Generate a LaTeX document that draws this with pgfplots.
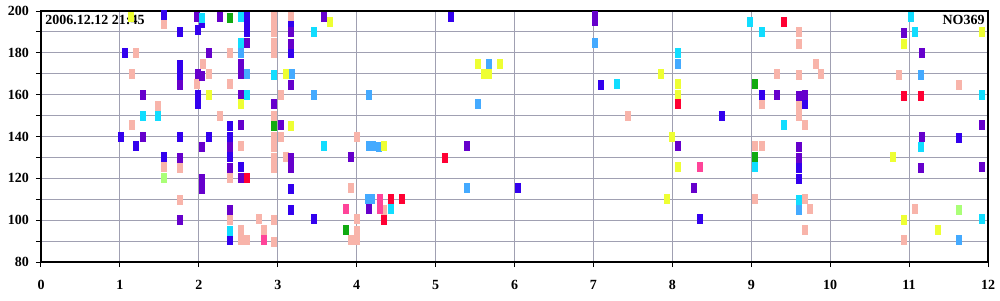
\documentclass[border=0pt]{standalone}
\usepackage{pgfplots}
\pgfplotsset{compat=1.18}
\usepackage{fontspec}
\setmainfont{Liberation Serif}
\definecolor{dblue}{RGB}{51,0,238}
\definecolor{purp}{RGB}{102,0,204}
\definecolor{pinkc}{RGB}{248,180,170}
\definecolor{cyanc}{RGB}{17,221,255}
\definecolor{lblue}{RGB}{68,170,255}
\definecolor{yell}{RGB}{238,255,51}
\definecolor{grn}{RGB}{17,170,17}
\definecolor{redc}{RGB}{255,0,51}
\definecolor{hpink}{RGB}{255,68,153}
\definecolor{lgreen}{RGB}{170,255,119}
\definecolor{gridc}{RGB}{160,160,178}
\pgfdeclareplotmark{vr}{\pgfpathrectangle{\pgfpoint{-1.5pt}{-2.5pt}}{\pgfpoint{3pt}{5pt}}\pgfusepathqfill}
\begin{document}
\begin{tikzpicture}
\begin{axis}[name=ax, scale only axis, width=473.5pt, height=125.5pt,
  xmin=0, xmax=12, ymin=80, ymax=200,
  xtick={0,1,...,12}, ytick={80,100,...,200}, minor ytick={90,110,...,190},
  grid=both, major grid style={gridc, line width=0.5pt}, minor grid style={gridc, line width=0.5pt},
  tick align=outside, major tick length=2.5pt, minor tick length=2.5pt,
  xtick pos=left, ytick pos=left, tick style={black, line width=0.5pt},
  axis line style={black, line width=0.8pt},
  /pgf/number format/assume math mode=true,
  ticklabel style={font=\fontsize{7}{8}\selectfont\bfseries},
  xticklabel style={yshift=-3pt},
  every axis plot/.append style={only marks, mark=vr},
]
\addplot[pinkc] coordinates {(1.56,194) (1.98,165) (1.21,180) (1.15,170) (2.05,174.8) (1.48,154.8) (1.15,145.3) (1.56,125.3) (1.76,124.8) (1.76,109.7)
(2.95,197) (2.95,193) (2.95,190) (2.95,184.5) (2.95,180) (3.17,197)
(2.40,180) (2.13,170) (2.40,165) (3.04,160) (2.27,150) (2.95,149.7) (3.04,140) (2.95,139.8) (2.95,135) (4.00,139.7) (2.54,135.3) (2.95,129.6) (2.95,124.9) (3.10,130) (2.40,120.1) (3.93,115.3) (2.40,100.1) (2.76,100.4) (2.95,100.1) (4.01,100.4) (2.54,95.4) (2.54,90.6) (2.61,90.3) (2.82,95.4) (4.00,95) (4.00,90.3) (3.93,90.3) (2.95,89.8)
(4.35,104.9) (7.44,150)
(9.60,190) (9.60,184.4) (9.82,174.8) (9.33,170) (9.60,169.6) (9.89,170) (9.13,155.3) (9.60,154.8) (9.60,149.7) (9.68,145.3) (9.05,135.3) (9.13,135.3) (9.05,110.1) (9.68,110.1) (9.75,105.4) (9.68,95.4)
(10.87,169.6) (11.63,164.6) (11.08,105.4) (10.93,90.3)};
\addplot[dblue] coordinates {(1.56,198) (1.76,190) (1.99,191) (1.07,180) (1.76,174.3) (1.76,169.6) (1.99,160) (1.99,155.3) (1.01,140) (1.76,139.7) (1.21,135.3) (1.56,130)
(2.04,194.4) (2.61,197) (2.61,193) (2.61,190) (3.17,193) (3.17,179.7) (2.40,144.8) (2.40,140) (2.13,140) (2.40,130.2) (2.54,125.3) (3.17,114.9) (3.17,104.9) (3.46,100.4) (2.40,90.3)
(5.20,197) (6.04,115.4) (7.09,164.6)
(9.13,160) (9.68,155.3) (8.63,150) (9.60,124.8) (9.60,119.6) (8.35,100.4) (11.63,139.5)};
\addplot[purp] coordinates {(1.98,197) (1.76,164.8) (1.29,160) (1.29,140) (2.04,135) (1.76,129.7) (2.04,119.6) (2.04,114.9) (1.76,100.1)
(1.99,170) (2.04,169)
(2.27,197) (3.17,190) (3.59,197) (2.61,184.8) (3.17,184.4) (2.13,180) (2.54,174.8) (2.54,170) (3.17,164.6) (2.54,160) (2.95,155.3) (2.54,145.3) (3.04,145.3) (2.40,135) (3.17,129.6) (3.17,124.9) (3.93,130) (2.40,124.8) (2.54,120.1) (2.40,104.9)
(4.15,105.2) (5.40,135.3) (7.02,197.5) (7.02,195) (8.07,135.3)
(9.33,160) (9.60,159.5) (9.68,160) (9.60,134.8) (9.60,129.6) (8.28,115.4)
(10.93,189.5) (11.16,180) (11.92,145.3) (11.16,140) (11.15,124.8) (11.92,125.3)};
\addplot[lblue] coordinates {(2.54,180) (2.61,170) (3.18,170) (3.46,160) (5.68,174.8) (4.15,160) (5.54,155.3) (4.15,135.3) (4.21,135.3) (4.28,135) (5.40,115.4) (4.14,110) (4.20,110) (7.02,184.8) (8.07,174.8) (9.60,104.9) (11.15,169.6) (11.63,90.3)};
\addplot[cyanc] coordinates {(1.29,150) (1.48,149.7) (2.04,196.8) (2.54,197) (3.46,190) (2.54,184.8) (2.95,169.6) (2.61,160) (3.59,135.3) (2.40,94.9) (4.43,105.4) (8.07,180) (7.30,165.1) (8.99,194.8) (9.13,190) (9.41,145.3) (9.05,125.3) (9.60,109.6) (11.02,197) (11.08,190) (11.92,160) (11.15,134.8) (11.92,100.4)};
\addplot[yell] coordinates {(1.14,197) (3.66,194.8) (3.10,170) (2.13,160) (2.54,155.3) (3.17,144.8) (4.35,135.3) (5.54,174.8) (5.82,174.8) (5.61,170) (5.68,170) (7.85,170) (8.07,165.1) (8.07,160) (8.00,140) (8.07,125.3) (7.93,110.1) (11.92,190) (10.93,184.4) (10.80,130) (10.93,100.1) (11.36,95.4)};
\addplot[grn] coordinates {(2.40,196.6) (2.95,144.8) (3.87,95.4) (9.05,165.1) (9.05,130)};
\addplot[redc] coordinates {(2.61,120.1) (5.12,129.6) (4.43,110.1) (4.57,110.1) (4.35,100.1) (8.07,155.3) (9.41,194.8) (10.93,159.5) (11.15,159.5)};
\addplot[hpink] coordinates {(3.87,105.4) (4.29,110.1) (4.29,105.4) (2.82,90.3) (8.35,125.3)};
\addplot[lgreen] coordinates {(1.56,120.3) (11.63,104.9)};
\node[anchor=north west, inner sep=0pt, font=\fontsize{7}{8}\selectfont\bfseries] at ([xshift=2pt,yshift=-1.8pt]rel axis cs:0,1) {2006.12.12 21:45};
\node[anchor=north east, inner sep=0pt, font=\fontsize{7}{8}\selectfont\bfseries] at ([xshift=-1.5pt,yshift=-1.8pt]rel axis cs:1,1) {NO369};
\end{axis}
\pgfresetboundingbox
\path[use as bounding box] ([xshift=-20.5pt,yshift=-19pt]ax.south west) rectangle ([xshift=6pt,yshift=5.5pt]ax.north east);
\end{tikzpicture}
\end{document}
